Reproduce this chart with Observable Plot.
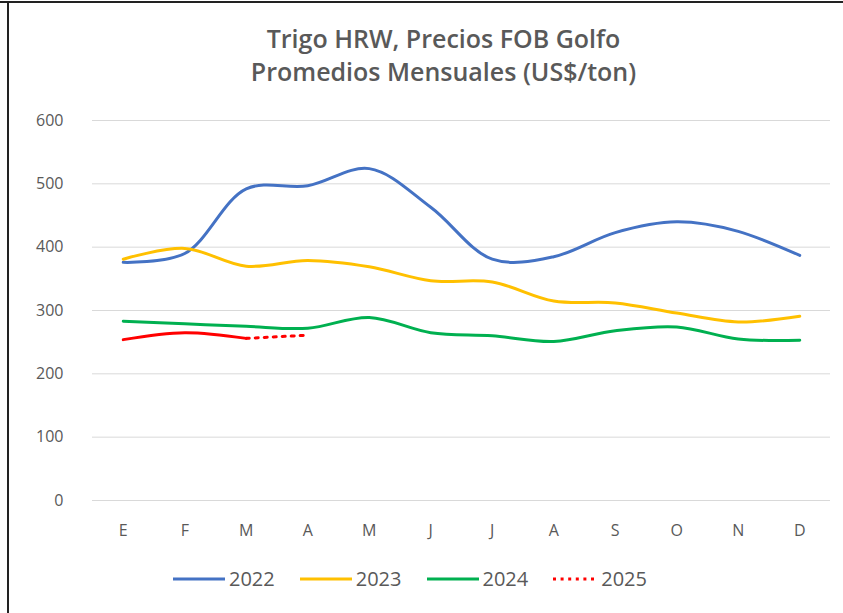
<!DOCTYPE html>
<html>
<head>
<meta charset="utf-8">
<script src="https://cdn.jsdelivr.net/npm/d3@7"></script>
<script src="https://cdn.jsdelivr.net/npm/@observablehq/plot@0.6"></script>
<style>
  html, body { margin: 0; padding: 0; background: #fff; }
  #wrap { position: relative; width: 843px; height: 613px; overflow: hidden; background: #fff; font-family: "Open Sans", "Noto Sans", sans-serif; }
  #bt { position: absolute; left: 0; top: 1px; width: 843px; height: 2px; background: #222; }
  #bl { position: absolute; left: 7px; top: 1px; width: 2px; height: 612px; background: #222; }
  #title { position: absolute; left: 22px; width: 843px; top: 22px; text-align: center; color: #595959; font-size: 25px; font-weight: 600; line-height: 33px; }
  #chart { position: absolute; left: 0; top: 100px; }
  #legend { position: absolute; left: -12px; width: 843px; top: 565px; display: flex; justify-content: center; gap: 24px; color: #595959; font-size: 20px; }
  .item { display: flex; align-items: center; gap: 3px; }
</style>
</head>
<body>
<div id="wrap">
  <div id="bt"></div><div id="bl"></div>
  <div id="title">Trigo HRW, Precios FOB Golfo<br>Promedios Mensuales (US$/ton)</div>
  <div id="chart"></div>
  <div id="legend"></div>
</div>
<script>
const months = ["E","F","M","A","M ","J","J ","A ","S","O","N","D"];
const monthLabels = ["E","F","M","A","M","J","J","A","S","O","N","D"];
const years = ["2022","2023","2024","2025"];
const v2022 = [376, 390, 492, 497, 524, 463, 381, 385, 423, 440, 425, 387];
const v2023 = [381, 398, 370, 379, 369, 347, 345, 315, 312, 296, 282, 291];
const v2024 = [283, 279, 275, 272, 289, 265, 260, 251, 268, 274, 255, 253];
const v2025 = [254, 265, 256, 261];
const v2025Solid = 3; // first 3 months actual, last segment dotted
const colors = ["#4472C4", "#FFC000", "#00B050", "#FF0000"];
const yTicks = [0, 100, 200, 300, 400, 500, 600];

const rows = [];
[v2022, v2023, v2024].forEach((arr, i) => arr.forEach((v, j) => rows.push({year: years[i], m: months[j], v})));
const solid25 = v2025.slice(0, v2025Solid).map((v, j) => ({year: "2025", m: months[j], v}));
const dotted25 = v2025.slice(v2025Solid - 1).map((v, j) => ({year: "2025", m: months[j + v2025Solid - 1], v}));

const plot = Plot.plot({
  width: 843,
  height: 470,
  marginLeft: 92,
  marginRight: 13,
  marginTop: 20,
  marginBottom: 70,
  style: {fontFamily: "'Open Sans', 'Noto Sans', sans-serif", fontSize: "16px", color: "#595959", background: "transparent"},
  x: {type: "point", domain: months, padding: 0.5, round: false, label: null, tickSize: 0, tickPadding: 24, tickFormat: (d, i) => monthLabels[i]},
  y: {domain: [0, 600], ticks: yTicks, label: null, tickSize: 0, tickPadding: 29},
  color: {domain: years, range: colors},
  marks: [
    Plot.gridY(yTicks, {stroke: "#d9d9d9", strokeOpacity: 1, strokeWidth: 1}),
    Plot.line(rows, {x: "m", y: "v", z: "year", stroke: "year", strokeWidth: 3, curve: "catmull-rom"}),
    Plot.line(solid25, {x: "m", y: "v", stroke: "year", strokeWidth: 3, curve: "catmull-rom"}),
    Plot.line(dotted25, {x: "m", y: "v", stroke: "year", strokeWidth: 3, strokeDasharray: "3,6", curve: "linear"})
  ]
});
plot.querySelectorAll("[aria-label='x-axis tick label'] text, [aria-label='y-axis tick label'] text").forEach(t => t.setAttribute("fill", "#595959"));
document.getElementById("chart").appendChild(plot);

const leg = document.getElementById("legend");
years.forEach((y, i) => {
  const item = document.createElement("div");
  item.className = "item";
  const w = i === 3 ? 46 : 54;
  const dash = i === 3 ? 'stroke-dasharray="3,4.6"' : '';
  item.innerHTML = `<svg width="${w}" height="10"><line x1="1" y1="5" x2="${w - 1}" y2="5" stroke="${colors[i]}" stroke-width="3" ${dash}/></svg><span>${y}</span>`;
  leg.appendChild(item);
});
</script>
</body>
</html>
